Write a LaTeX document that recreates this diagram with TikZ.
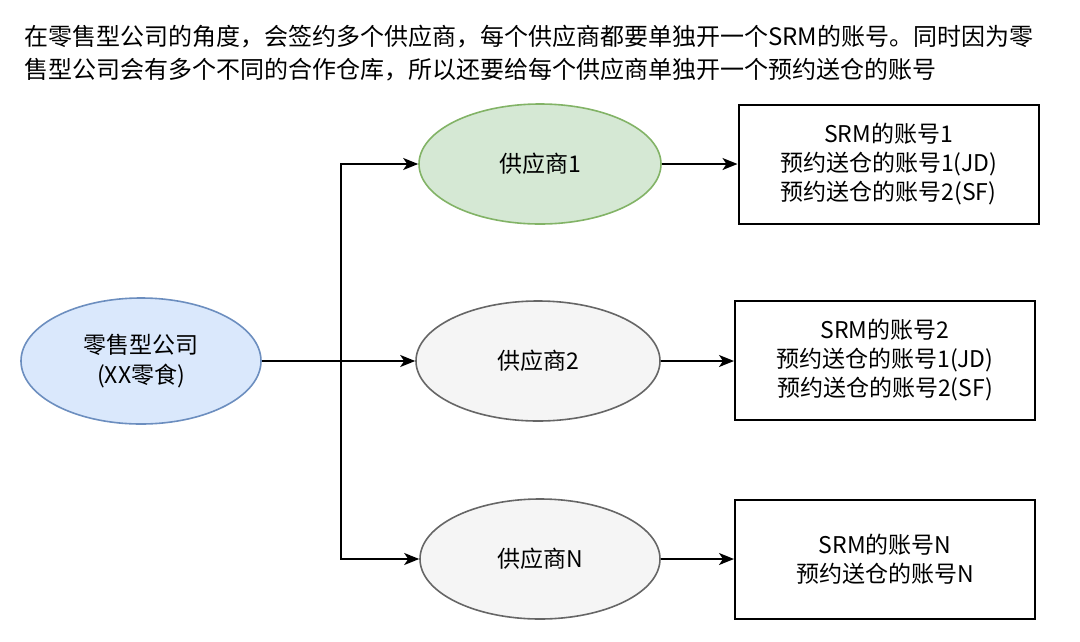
\documentclass[tikz,border=0pt]{standalone}
\usepackage{fontspec}
\setmainfont{Noto Sans CJK SC}
\usetikzlibrary{arrows.meta,shapes.geometric}
\definecolor{bluefill}{HTML}{DAE8FC}
\definecolor{bluedraw}{HTML}{6C8EBF}
\definecolor{greenfill}{HTML}{D5E8D4}
\definecolor{greendraw}{HTML}{82B366}
\definecolor{grayfill}{HTML}{F5F5F5}
\definecolor{graydraw}{HTML}{666666}
\begin{document}
\begin{tikzpicture}[x=1pt,y=-1pt,
  titletext/.style={anchor=west,inner sep=0pt,font=\fontsize{24}{33}\selectfont},
  ell/.style={ellipse,line width=1.6pt,inner sep=0pt,align=center,font=\fontsize{23}{30}\selectfont},
  acct/.style={rectangle,draw=black,line width=2pt,inner sep=0pt,align=center,minimum width=300pt,minimum height=119pt,font=\fontsize{23}{29}\selectfont},
  conn/.style={line width=1.8pt,draw=black},
  arr/.style={conn,-{Stealth[length=15pt,width=12pt,inset=4pt]}}
]
\useasboundingbox (0,0) rectangle (1080,641);
\node[titletext] (t1) at (24,37) {在零售型公司的角度，会签约多个供应商，每个供应商都要单独开一个SRM的账号。同时因为零};
\node[titletext] (t2) at (24,70) {售型公司会有多个不同的合作仓库，所以还要给每个供应商单独开一个预约送仓的账号};

\node[ell,fill=bluefill,draw=bluedraw,minimum width=240pt,minimum height=126pt] (comp) at (141,361) {零售型公司\\(XX零食)};
\node[ell,fill=greenfill,draw=greendraw,minimum width=242pt,minimum height=120pt] (s1) at (540,164) {供应商1};
\node[ell,fill=grayfill,draw=graydraw,minimum width=244pt,minimum height=120pt] (s2) at (538,361) {供应商2};
\node[ell,fill=grayfill,draw=graydraw,minimum width=240pt,minimum height=120pt] (sN) at (540,559) {供应商N};

\node[acct] (b1) at (888.5,164.5) {SRM的账号1\\预约送仓的账号1(JD)\\预约送仓的账号2(SF)};
\node[acct] (b2) at (885,360) {SRM的账号2\\预约送仓的账号1(JD)\\预约送仓的账号2(SF)};
\node[acct] (bN) at (885,559.5) {SRM的账号N\\预约送仓的账号N};

\coordinate (j) at (341,361);
\draw[conn] (comp.east) -- (j);
\draw[arr] (j) |- (s1.west);
\draw[arr] (j) -- (s2.west);
\draw[arr] (j) |- (sN.west);
\draw[arr] (s1.east) -- (b1.west |- s1.east);
\draw[arr] (s2.east) -- (b2.west |- s2.east);
\draw[arr] (sN.east) -- (bN.west |- sN.east);
\end{tikzpicture}
\end{document}
